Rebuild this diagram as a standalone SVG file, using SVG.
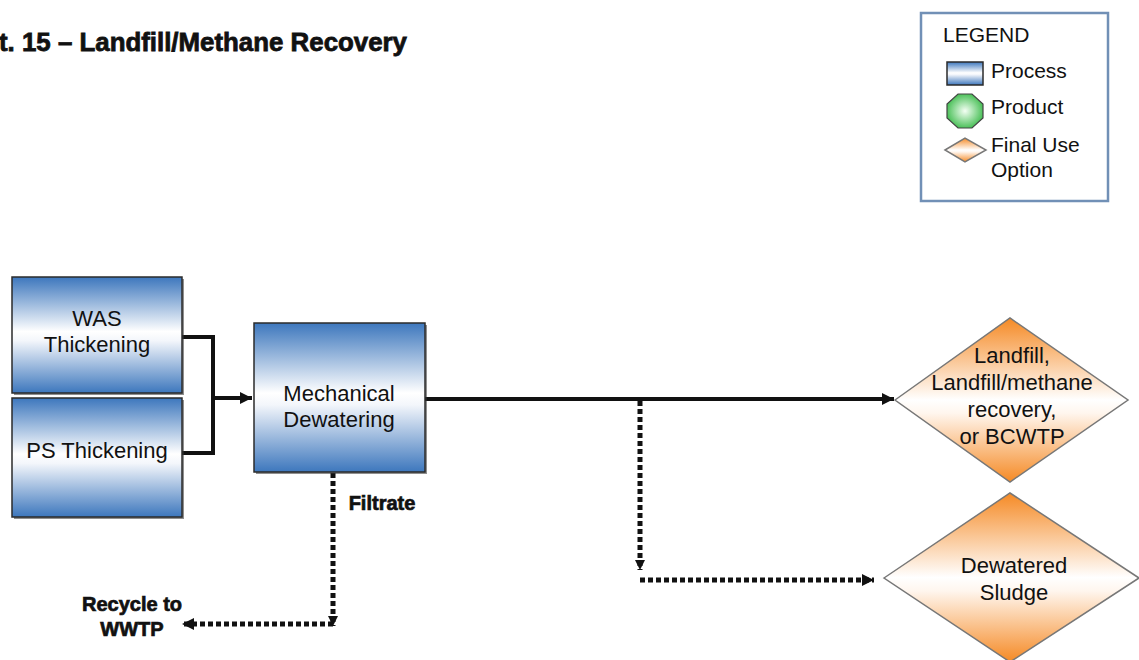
<svg xmlns="http://www.w3.org/2000/svg" width="1139" height="660" viewBox="0 0 1139 660">
  <defs>
    <linearGradient id="gProcess" x1="0" y1="0" x2="0" y2="1">
      <stop offset="0" stop-color="#3d77bd"/>
      <stop offset="0.47" stop-color="#ffffff"/>
      <stop offset="0.55" stop-color="#f3f6fb"/>
      <stop offset="1" stop-color="#3d77bd"/>
    </linearGradient>
    <linearGradient id="gOption" x1="0" y1="0" x2="0" y2="1">
      <stop offset="0" stop-color="#f58a25"/>
      <stop offset="0.5" stop-color="#ffffff"/>
      <stop offset="0.58" stop-color="#fff6ee"/>
      <stop offset="1" stop-color="#f58a25"/>
    </linearGradient>
    <radialGradient id="gProduct" cx="0.5" cy="0.5" r="0.55">
      <stop offset="0" stop-color="#f4fff4"/>
      <stop offset="1" stop-color="#3dbb4c"/>
    </radialGradient>
    <marker id="arrow" viewBox="0 0 10 10" refX="10" refY="5" markerWidth="14" markerHeight="12" markerUnits="userSpaceOnUse" orient="auto">
      <path d="M0,0 L10,5 L0,10 Z" fill="#111"/>
    </marker>
    <marker id="arrowSmall" viewBox="0 0 10 10" refX="10" refY="5" markerWidth="12" markerHeight="10" markerUnits="userSpaceOnUse" orient="auto">
      <path d="M0,0 L10,5 L0,10 Z" fill="#111"/>
    </marker>
  </defs>
  <style>
    .proc { fill: url(#gProcess); stroke: #2b2b2b; stroke-width: 1.5; }
    .shadow { fill: #333; opacity: 0.55; }
    .opt { fill: url(#gOption); stroke: #777; stroke-width: 1.5; }
    .lbl { font-family: "Liberation Sans", Arial, sans-serif; font-size: 22px; fill: #111; text-anchor: middle; }
    .bold { font-family: "Liberation Sans", Arial, sans-serif; font-size: 20px; font-weight: bold; fill: #111; stroke: #111; stroke-width: 0.7; text-anchor: middle; }
    .leg { font-family: "Liberation Sans", Arial, sans-serif; font-size: 21px; fill: #111; }
    .solid { fill: none; stroke: #111; stroke-width: 4; }
    .dotted { fill: none; stroke: #111; stroke-width: 5; stroke-dasharray: 5 3; }
  </style>

  <rect width="1139" height="660" fill="#ffffff"/>

  <!-- title -->
  <text x="-1" y="51" font-family="Liberation Sans, Arial, sans-serif" font-size="26" font-weight="bold" fill="#111" stroke="#111" stroke-width="0.8" textLength="408" lengthAdjust="spacingAndGlyphs">t. 15 – Landfill/Methane Recovery</text>

  <!-- legend -->
  <g id="legend">
    <rect x="921" y="13" width="187" height="188" fill="#ffffff" stroke="#7190b6" stroke-width="2.5"/>
    <text class="leg" x="943" y="42" font-size="20">LEGEND</text>
    <rect x="947" y="62" width="36" height="23" class="proc"/>
    <text class="leg" x="991" y="78">Process</text>
    <polygon points="958,94 972,94 983,104 983,118 972,128 958,128 947,118 947,104" fill="url(#gProduct)" stroke="#444" stroke-width="1.2"/>
    <text class="leg" x="991" y="114">Product</text>
    <polygon points="945,150 965,138 986,150 965,162" class="opt" stroke-width="1.2"/>
    <text class="leg" x="991" y="152">Final Use</text>
    <text class="leg" x="991" y="177">Option</text>
  </g>

  <!-- connectors -->
  <g id="connectors">
    <polyline class="solid" points="182,337 213,337 213,453 182,453" stroke-width="5"/>
    <line class="solid" x1="213" y1="398" x2="252" y2="398" stroke-width="3.5" marker-end="url(#arrow)"/>
    <line class="solid" x1="425" y1="399" x2="894" y2="399" marker-end="url(#arrow)"/>
    <line class="dotted" x1="640" y1="401" x2="640" y2="570" marker-end="url(#arrowSmall)"/>
    <line class="dotted" x1="640" y1="580" x2="874" y2="580" marker-end="url(#arrow)"/>
    <line class="dotted" x1="333" y1="473" x2="333" y2="626" marker-end="url(#arrowSmall)"/>
    <line class="dotted" x1="333" y1="624" x2="182" y2="624" marker-end="url(#arrow)"/>
  </g>

  <!-- process nodes -->
  <g id="was-thickening">
    <rect x="14" y="279" width="170" height="116" class="shadow"/>
    <rect x="12" y="277" width="170" height="116" class="proc"/>
    <text class="lbl" x="97" y="326">WAS</text>
    <text class="lbl" x="97" y="352">Thickening</text>
  </g>
  <g id="ps-thickening">
    <rect x="14" y="400" width="170" height="119" class="shadow"/>
    <rect x="12" y="398" width="170" height="119" class="proc"/>
    <text class="lbl" x="97" y="458">PS Thickening</text>
  </g>
  <g id="mechanical-dewatering">
    <rect x="256" y="325" width="171" height="149" class="shadow"/>
    <rect x="254" y="323" width="171" height="149" class="proc"/>
    <text class="lbl" x="339" y="401">Mechanical</text>
    <text class="lbl" x="339" y="427">Dewatering</text>
  </g>

  <!-- final use options -->
  <g id="landfill-option">
    <polygon points="895,400 1010,318 1128,400 1010,482" class="opt"/>
    <text class="lbl" x="1012" y="363">Landfill,</text>
    <text class="lbl" x="1012" y="390">Landfill/methane</text>
    <text class="lbl" x="1012" y="417">recovery,</text>
    <text class="lbl" x="1012" y="444">or BCWTP</text>
  </g>
  <g id="dewatered-sludge">
    <polygon points="884,578 1010,493 1139,578 1010,662" class="opt"/>
    <text class="lbl" x="1014" y="573">Dewatered</text>
    <text class="lbl" x="1014" y="600">Sludge</text>
  </g>

  <!-- flow labels -->
  <g id="labels">
    <text class="bold" x="382" y="510">Filtrate</text>
    <text class="bold" x="132" y="611">Recycle to</text>
    <text class="bold" x="132" y="636">WWTP</text>
  </g>
</svg>
